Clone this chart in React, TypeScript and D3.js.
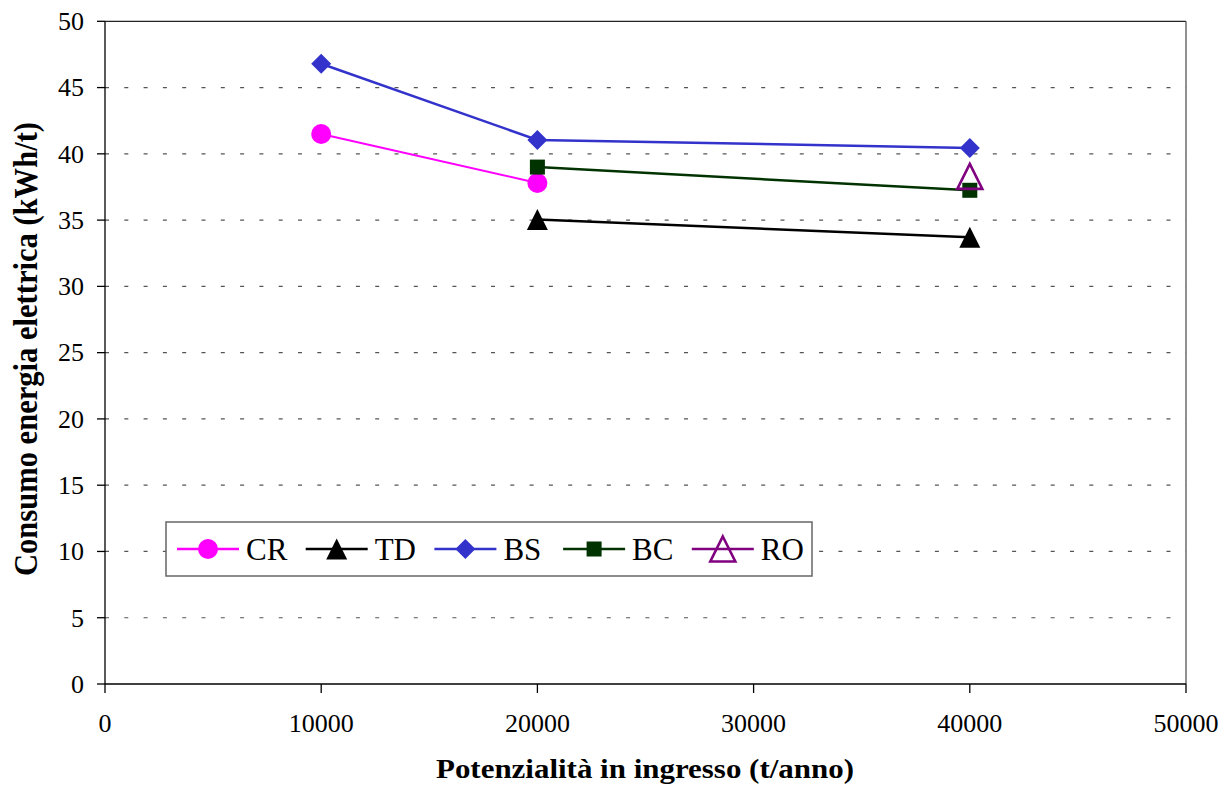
import React from "react";
import * as d3 from "d3";

const xTicks = [0, 10000, 20000, 30000, 40000, 50000];
const yTicks = [0, 5, 10, 15, 20, 25, 30, 35, 40, 45, 50];

const seriesNames = ["CR", "TD", "BS", "BC", "RO"];
const seriesColors = ["#FF00FF", "#000000", "#3333CC", "#003300", "#800080"];
const seriesMarkers = ["circle", "triangle", "diamond", "square", "triangleOpen"];

const crX = [10000, 20000];
const crY = [41.5, 37.8];
const tdX = [20000, 40000];
const tdY = [35.05, 33.7];
const bsX = [10000, 20000, 40000];
const bsY = [46.8, 41.05, 40.45];
const bcX = [20000, 40000];
const bcY = [39.0, 37.25];
const roX = [40000];
const roY = [38.3];

const seriesX = [crX, tdX, bsX, bcX, roX];
const seriesY = [crY, tdY, bsY, bcY, roY];

const FONT = "'Liberation Serif', 'Times New Roman', serif";

function Marker({ type, cx, cy, color }: { type: string; cx: number; cy: number; color: string }) {
  if (type === "circle") return <circle cx={cx} cy={cy} r={10} fill={color} />;
  if (type === "triangle") {
    const h = 10.5;
    return <path d={`M${cx},${cy - h}L${cx + h},${cy + h}L${cx - h},${cy + h}Z`} fill={color} />;
  }
  if (type === "triangleOpen") {
    const h = 12.5;
    return (
      <path
        d={`M${cx},${cy - h}L${cx + h},${cy + h}L${cx - h},${cy + h}Z`}
        fill="none"
        stroke={color}
        strokeWidth={2.6}
        strokeLinejoin="miter"
      />
    );
  }
  if (type === "diamond") {
    const h = 10;
    return <path d={`M${cx},${cy - h}L${cx + h},${cy}L${cx},${cy + h}L${cx - h},${cy}Z`} fill={color} />;
  }
  if (type === "square") {
    const h = 7.5;
    return <rect x={cx - h} y={cy - h} width={2 * h} height={2 * h} fill={color} />;
  }
  return null;
}

export default function App() {
  const W = 1227;
  const H = 794;
  const left = 105;
  const right = 1186;
  const top = 21.3;
  const bottom = 684;
  const x = d3.scaleLinear().domain([0, 50000]).range([left, right]);
  const y = d3.scaleLinear().domain([0, 50]).range([bottom, top]);
  const line = d3
    .line<[number, number]>()
    .x((d) => x(d[0]))
    .y((d) => y(d[1]));

  const legendX0 = 177;
  const legendStep = 128.7;
  const legendY = 549;

  return (
    <svg
      width={W}
      height={H}
      style={{ position: "absolute", left: 0, top: 0, background: "#fff" }}
      fontFamily={FONT}
    >
      <rect x={0} y={0} width={W} height={H} fill="#fff" />
      {yTicks
        .filter((t) => t > 0 && t < 50)
        .map((t) => (
          <line
            key={"g" + t}
            x1={left}
            x2={right}
            y1={y(t)}
            y2={y(t)}
            stroke="#555"
            strokeWidth={1.2}
            strokeDasharray="4 15.3"
          />
        ))}
      <line x1={left} x2={right} y1={top} y2={top} stroke="#222" strokeWidth={1.3} />
      <line x1={right} x2={right} y1={top} y2={bottom} stroke="#555" strokeWidth={1.3} />
      <line x1={left} x2={left} y1={top} y2={bottom} stroke="#000" strokeWidth={1.3} />
      <line x1={left} x2={right} y1={bottom} y2={bottom} stroke="#000" strokeWidth={1.3} />
      {yTicks.map((t) => (
        <g key={"yt" + t}>
          <line x1={left - 8} x2={left} y1={y(t)} y2={y(t)} stroke="#000" strokeWidth={1.3} />
          <text x={84} y={y(t)} dy="0.34em" textAnchor="end" fontSize={26} fill="#000">
            {t}
          </text>
        </g>
      ))}
      {xTicks.map((t) => (
        <g key={"xt" + t}>
          <line x1={x(t)} x2={x(t)} y1={bottom} y2={bottom + 9} stroke="#000" strokeWidth={1.3} />
          <text x={x(t)} y={732} textAnchor="middle" fontSize={26} fill="#000">
            {t}
          </text>
        </g>
      ))}
      <text
        x={645}
        y={778}
        textAnchor="middle"
        fontSize={27}
        fontWeight="bold"
        textLength={418}
        lengthAdjust="spacingAndGlyphs"
      >
        Potenzialità in ingresso (t/anno)
      </text>
      <text
        transform={`translate(37,349) rotate(-90)`}
        textAnchor="middle"
        fontSize={34}
        fontWeight="bold"
        textLength={454}
        lengthAdjust="spacingAndGlyphs"
      >
        Consumo energia elettrica (kWh/t)
      </text>
      {seriesNames.map((name, i) => {
        const pts = seriesX[i].map((xv, j) => [xv, seriesY[i][j]] as [number, number]);
        return (
          <g key={name}>
            {pts.length > 1 && (
              <path d={line(pts) || ""} fill="none" stroke={seriesColors[i]} strokeWidth={i === 0 ? 2 : 2.5} />
            )}
            {pts.map((p, j) => (
              <Marker key={j} type={seriesMarkers[i]} cx={x(p[0])} cy={y(p[1])} color={seriesColors[i]} />
            ))}
          </g>
        );
      })}
      <rect x={166} y={522} width={646} height={54} fill="#fff" stroke="#666" strokeWidth={1.5} />
      {seriesNames.map((name, i) => {
        const lx = legendX0 + i * legendStep;
        return (
          <g key={"lg" + name}>
            <line x1={lx} x2={lx + 62} y1={legendY} y2={legendY} stroke={seriesColors[i]} strokeWidth={2.5} />
            <Marker type={seriesMarkers[i]} cx={lx + 31} cy={legendY} color={seriesColors[i]} />
            <text x={lx + 69} y={560} fontSize={31} fill="#000">
              {name}
            </text>
          </g>
        );
      })}
    </svg>
  );
}
